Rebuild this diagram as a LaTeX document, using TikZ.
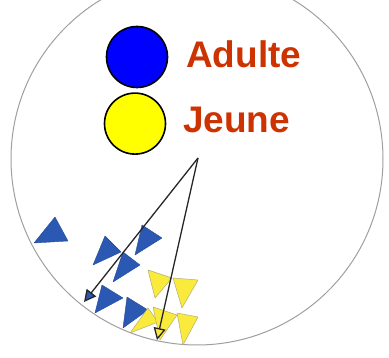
\documentclass[tikz,border=0pt]{standalone}
\usepackage{fontspec}
\setmainfont{Liberation Sans}
\usepackage{tikz}
\usetikzlibrary{positioning,arrows.meta}
\definecolor{legendblue}{RGB}{0,0,255}
\definecolor{legendyellow}{RGB}{255,255,0}
\definecolor{fishblue}{RGB}{42,88,178}
\definecolor{fishyellow}{RGB}{250,234,60}
\definecolor{labelred}{RGB}{204,51,0}

\begin{document}
\begin{tikzpicture}[
  x=1pt, y=-1pt,
  >=Stealth,
  key/.style={draw, circle, line width=1.6pt, minimum size=61pt, inner sep=0pt},
  lbl/.style={anchor=base west, inner sep=0pt, text=labelred,
    font=\fontsize{37}{40}\selectfont\bfseries},
  tank/.style={draw=gray!75, line width=1pt},
  bfish/.style={fill=fishblue, draw=fishblue!85!black, line width=0.4pt, line join=round},
  yfish/.style={fill=fishyellow, draw=gray!70!yellow, line width=0.5pt, line join=round},
  path/.style={line width=1.3pt, draw=black!85},
]
\useasboundingbox (0,0) rectangle (389,358);
\begin{scope}
\clip (0,0) rectangle (389,358);

% Tank
\draw[tank] (197,159) circle (186);

% Legend
\node[key, fill=legendblue] (adulte) at (137,57) {};
\node[key, fill=legendyellow, below=4pt of adulte, xshift=-2pt] (jeune) {};
\node[lbl] (adultetxt) at (186,68) {Adulte};
\node[lbl] (jeunetxt) at (183,133) {Jeune};

% Adults
\filldraw[bfish] (55,217) -- (34,243) -- (68,241) -- cycle;
\filldraw[bfish] (105,236) -- (93,265) -- (121,252) -- cycle;
\filldraw[bfish] (142,225) -- (135,255) -- (162,238) -- cycle;
\filldraw[bfish] (123,252) -- (113,282) -- (140,265) -- cycle;
\filldraw[bfish] (102,285) -- (95,313) -- (123,298) -- cycle;
\filldraw[bfish] (127,297) -- (123,328) -- (148,310) -- cycle;

% Juveniles
\filldraw[yfish] (130,333) -- (148,308) -- (158,322) -- cycle;
\filldraw[yfish] (148,270) -- (172,278) -- (155,298) -- cycle;
\filldraw[yfish] (173,278) -- (198,280) -- (182,308) -- cycle;
\filldraw[yfish] (153,307) -- (177,315) -- (160,340) -- cycle;
\filldraw[yfish] (177,313) -- (198,317) -- (183,345) -- cycle;

% Paths
\coordinate (start) at (198,158);
\coordinate (endA) at (84,302);
\coordinate (endJ) at (157,340);
\draw[path, -{Triangle[length=12pt, width=12pt, fill=fishblue]}] (start) -- (endA);
\draw[path, -{Triangle[length=12pt, width=12pt, fill=fishyellow]}] (start) -- (endJ);
\end{scope}
\end{tikzpicture}
\end{document}
